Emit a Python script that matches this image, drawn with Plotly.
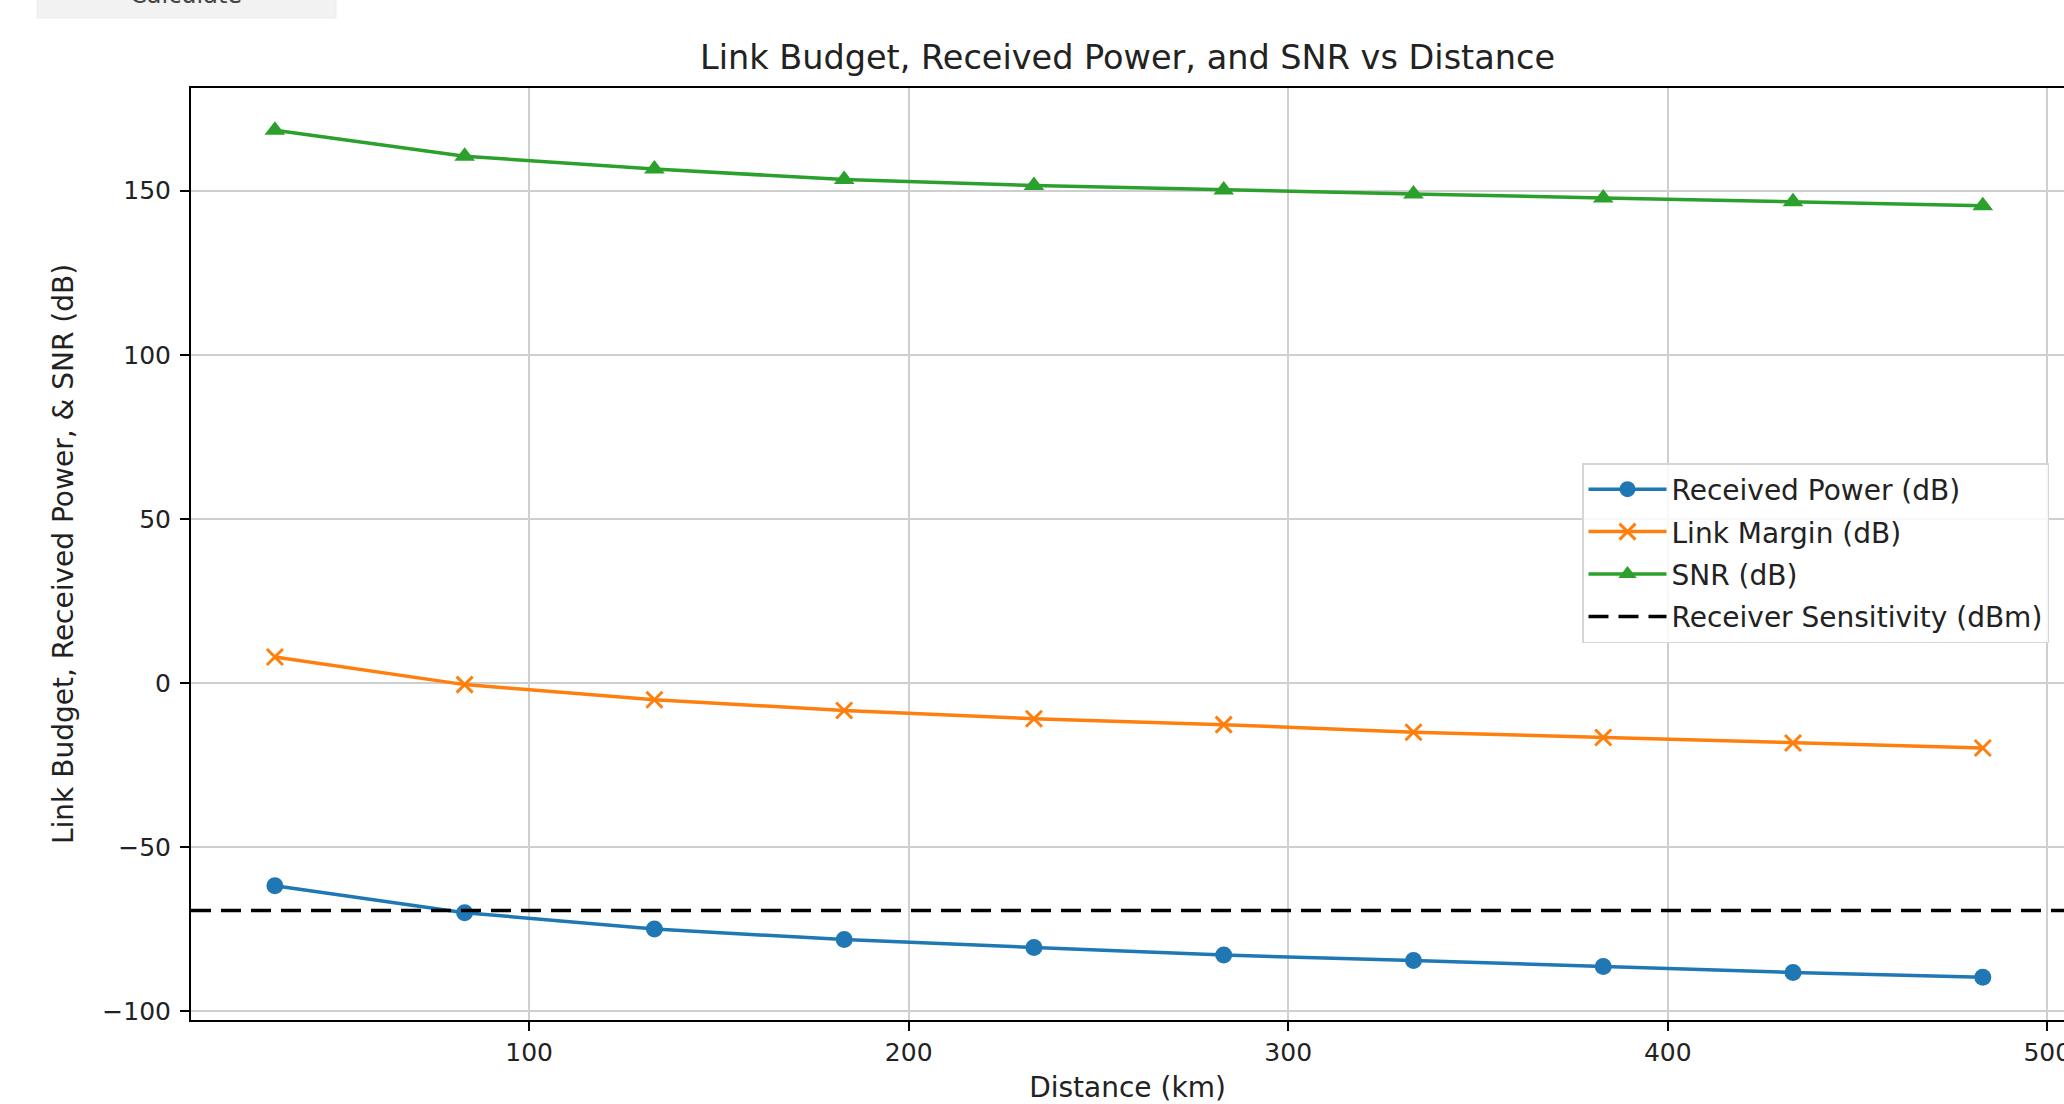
import plotly.graph_objects as go

# ---- data ----
distance_km = [33, 83, 133, 183, 233, 283, 333, 383, 433, 483]
received_power_db = [-61.8, -70.0, -75.0, -78.2, -80.6, -82.9, -84.6, -86.4, -88.2, -89.7]
link_margin_db = [7.9, -0.5, -5.1, -8.4, -10.9, -12.7, -15.0, -16.6, -18.3, -19.8]
snr_db = [168.4, 160.5, 156.6, 153.4, 151.6, 150.2, 149.0, 147.8, 146.6, 145.4]
receiver_sensitivity_dbm = -69.3

x_ticks = [100, 200, 300, 400, 500]
y_ticks = [-100, -50, 0, 50, 100, 150]

W, H = 2064, 1104
L, R, T, B = 191, 0, 88, 84
FONT = "DejaVu Sans"
TXT = "#222222"

fig = go.Figure()

fig.add_trace(go.Scatter(
    x=distance_km, y=received_power_db, name="Received Power (dB)",
    mode="lines+markers", legendgroup="g1",
    line=dict(color="#1f77b4", width=3.5),
    marker=dict(symbol="circle", size=17, color="#1f77b4"),
))
fig.add_trace(go.Scatter(
    x=distance_km, y=link_margin_db, name="Link Margin (dB)",
    mode="lines+markers", legendgroup="g2",
    line=dict(color="#ff7f0e", width=3.5),
    marker=dict(symbol="x-thin", size=16, color="#ff7f0e",
                line=dict(color="#ff7f0e", width=3)),
))
fig.add_trace(go.Scatter(
    x=distance_km, y=snr_db, name="SNR (dB)",
    mode="lines+markers", legendgroup="g3",
    line=dict(color="#2ca02c", width=3.5),
    marker=dict(symbol="triangle-up", size=18, color="#2ca02c"),
))
# legend entry for the horizontal sensitivity line
fig.add_trace(go.Scatter(
    x=[None], y=[None], name="Receiver Sensitivity (dBm)", mode="lines",
    legendgroup="g4",
    line=dict(color="black", width=3.5, dash="20px,10px"),
))
fig.add_hline(y=receiver_sensitivity_dbm,
              line=dict(color="black", width=3.5, dash="20px,10px"))

pw = W - L - R
ph = H - T - B
def px_x(v):
    return (v - L) / pw
def px_y(v):
    return (H - B - v) / ph

# clipped "Calculate" button fragment at the top-left of the page
fig.add_shape(type="rect", xref="paper", yref="paper",
              x0=px_x(37), x1=px_x(336), y0=px_y(18), y1=px_y(-5),
              fillcolor="#f2f2f2", line=dict(color="#ececec", width=1), layer="below")
fig.add_annotation(text="Calculate", xref="paper", yref="paper",
                   x=px_x(186), y=px_y(11), xanchor="center", yanchor="bottom",
                   showarrow=False, font=dict(family=FONT, size=24, color="#444444"))

axis_common = dict(
    showgrid=True, gridcolor="#cfcfcf", gridwidth=1.5,
    zeroline=False, automargin=False,
    showline=True, linecolor="black", linewidth=2,
    ticks="outside", ticklen=9, tickwidth=2, tickcolor="black",
    tickfont=dict(family=FONT, size=25, color=TXT),
    ticklabeloverflow="allow",
)

fig.update_layout(
    width=W, height=H,
    margin=dict(l=L, r=R, t=T, b=B, pad=0, autoexpand=False),
    paper_bgcolor="white", plot_bgcolor="white",
    font=dict(family=FONT, size=25, color=TXT),
    title=dict(text="Link Budget, Received Power, and SNR vs Distance",
               x=(L + (W - R)) / 2 / W, xanchor="center",
               y=1 - 57 / H, yanchor="middle",
               font=dict(family=FONT, size=33.5, color=TXT)),
    showlegend=True,
    legend=dict(
        x=px_x(1582), y=px_y(463), xanchor="left", yanchor="top",
        bgcolor="rgba(255,255,255,0.85)", bordercolor="#d6d6d6", borderwidth=1.5,
        font=dict(family=FONT, size=28, color=TXT),
        traceorder="grouped", tracegroupgap=3, itemwidth=78,
    ),
    xaxis=dict(range=[10.9, 504.4], tickvals=x_ticks, mirror=True,
               title=dict(text="Distance (km)", standoff=18,
                          font=dict(family=FONT, size=28, color=TXT)),
               **axis_common),
    yaxis=dict(range=[-102.7, 181.3], tickvals=y_ticks, mirror=False,
               title=dict(text="Link Budget, Received Power, &amp; SNR (dB)", standoff=21,
                          font=dict(family=FONT, size=28, color=TXT)),
               ticklabelstandoff=4,
               **axis_common),
)

fig.write_html(
    "out.html",
    config={"displayModeBar": False},
    post_script="document.body.style.margin='0';document.body.style.padding='0';"
                "document.body.style.overflow='hidden';",
)
